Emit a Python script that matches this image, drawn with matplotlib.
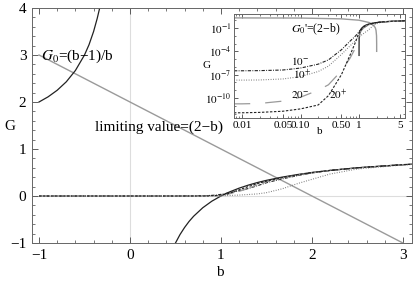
import numpy as np
import matplotlib
matplotlib.use("Agg")
import matplotlib.pyplot as plt
from matplotlib.ticker import FixedLocator, NullFormatter, MultipleLocator

plt.rcParams['font.family'] = ['Liberation Serif', 'DejaVu Serif']
plt.rcParams['mathtext.fontset'] = 'stix'

# ---------------- data ----------------
# G0 = (b-1)/b, two branches
g0_left_b = [-1.0, -0.9, -0.8, -0.7, -0.6, -0.5, -0.45, -0.4, -0.36, -0.333]
g0_left_G = [2.0, 2.11, 2.25, 2.43, 2.67, 3.0, 3.22, 3.5, 3.78, 4.0]
g0_right_b = [0.5, 0.55, 0.6, 0.65, 0.7, 0.8, 0.9, 1.0, 1.00003, 1.0003, 1.003, 1.01, 1.05,
              1.1, 1.2, 1.3, 1.4, 1.5, 1.67, 1.85, 2.0, 2.2, 2.5, 3.0, 4.0, 5.0, 6.0]
g0_right_G = [-1.0, -0.82, -0.67, -0.54, -0.43, -0.25, -0.11, 0.0, 3e-5, 3e-4, 3e-3, 0.0099, 0.048,
              0.091, 0.167, 0.231, 0.286, 0.333, 0.401, 0.459, 0.5, 0.545, 0.6, 0.667, 0.75, 0.8, 0.833]

# limiting value 2-b
lim_b = [-1.0, 3.0]
lim_G = [3.0, -1.0]
lim_log_b = [0.0073, 0.1, 0.5, 1.0, 1.5, 1.8, 1.9, 1.95, 1.99, 1.999, 1.9999]
lim_log_G = [1.99, 1.9, 1.5, 1.0, 0.5, 0.2, 0.1, 0.05, 0.01, 0.001, 1e-4]

# perturbative curves: log10(G) at common b values
curve_b = [0.0073, 0.01, 0.02, 0.05, 0.1, 0.2, 0.3, 0.5, 0.7, 0.85, 0.95, 1.0, 1.05, 1.1,
           1.2, 1.3, 1.4, 1.5, 1.67, 1.85, 2.0, 2.2, 2.5, 3.0, 4.0, 5.0, 6.0]
logG_10m = [-6.5, -6.5, -6.48, -6.4, -6.15, -5.65, -5.1, -3.8, -2.7, -2.1, -1.7, -1.45, -1.28, -1.15,
            -0.95, -0.8, -0.66, -0.55, -0.44, -0.36, -0.31, -0.265, -0.222, -0.176, -0.125, -0.097, -0.079]
logG_10p = [-7.7, -7.7, -7.68, -7.55, -7.25, -6.6, -5.9, -4.4, -3.3, -2.7, -2.4, -2.2, -2.05, -1.9,
            -1.7, -1.5, -1.35, -1.15, -0.82, -0.57, -0.45, -0.33, -0.24, -0.18, -0.125, -0.097, -0.079]
logG_20m = [-10.75, -10.75, -10.7, -10.4, -9.9, -9.0, -8.3, -6.5, -4.9, -3.7, -2.8, -2.3, -1.6, -1.3,
            -1.0, -0.8, -0.62, -0.52, -0.42, -0.35, -0.305, -0.265, -0.222, -0.176, -0.125, -0.097, -0.079]
logG_20p = [-11.9, -11.9, -11.85, -11.7, -11.4, -10.9, -9.7, -7.0, -4.5, -3.0, -2.0, -1.6, -1.5, -1.2,
            -0.88, -0.7, -0.58, -0.5, -0.41, -0.345, -0.302, -0.264, -0.222, -0.176, -0.125, -0.097, -0.079]

main_xticks = [-1, 0, 1, 2, 3]
main_yticks = [-1, 0, 1, 2, 3, 4]
inset_xticks = [0.01, 0.05, 0.1, 0.5, 1, 5]
inset_xlabels = ['0.01', '0.05', '0.10', '0.50', '1', '5']
inset_yticks = [1e-1, 1e-4, 1e-7, 1e-10]
inset_ylabels = [r'$10^{-1}$', r'$10^{-4}$', r'$10^{-7}$', r'$10^{-10}$']

# ---------------- styles ----------------
W, H = 415, 284
fig = plt.figure(figsize=(W / 100, H / 100), dpi=100)
ax = fig.add_axes([32 / W, 1 - 243 / H, (412 - 32) / W, (243 - 8) / H])

dark = '#222222'
gray = '#9a9a9a'
styles = {
    '10m': dict(color=dark, lw=0.8, dashes=(3.0, 1.2, 0.8, 1.2)),
    '10p': dict(color='#777777', lw=0.8, dashes=(0.8, 1.4)),
    '20m': dict(color=gray, lw=0.9, dashes=(13, 12)),
    '20p': dict(color=dark, lw=0.8, dashes=(2.2, 1.4)),
}
curves = {'10m': logG_10m, '10p': logG_10p, '20m': logG_20m, '20p': logG_20p}

# ---------------- main plot ----------------
ax.axhline(0, color='#dddddd', lw=0.8, zorder=0)
ax.axvline(0, color='#dddddd', lw=0.8, zorder=0)
ax.plot(lim_b, lim_G, color=gray, lw=1.0)
ax.plot(g0_left_b, g0_left_G, color=dark, lw=0.9)
ax.plot(g0_right_b, g0_right_G, color=dark, lw=0.9)
for k, lg in curves.items():
    bb = [-1.0] + curve_b
    gg = [0.0] + [10 ** v for v in lg]
    st = dict(styles[k])
    if k == '20m':
        st['dashes'] = (6, 4)
    ax.plot(bb, gg, **st)

ax.set_xlim(-1.077, 3.1)
ax.set_ylim(-1, 4)
ax.set_xticks(main_xticks)
ax.set_yticks(main_yticks)
ax.set_xticklabels(['\u22121', '0', '1', '2', '3'])
ax.set_yticklabels(['\u22121', '0', '1', '2', '3', '4'])
ax.xaxis.set_minor_locator(MultipleLocator(0.2))
ax.yaxis.set_minor_locator(MultipleLocator(0.2))
ax.tick_params(which='both', direction='in', top=True, right=True, labelsize=11, colors='#444444',
               labelcolor='black')
ax.tick_params(which='major', length=4.5, width=0.6)
ax.tick_params(which='minor', length=2, width=0.5)
ax.tick_params(axis='x', pad=4)
ax.tick_params(axis='y', pad=4)
for s in ax.spines.values():
    s.set_color('#666666')
    s.set_linewidth(0.7)

fig.text(220 / W, 1 - 272 / H, 'b', ha='center', va='center', fontsize=11)
fig.text(10 / W, 1 - 127 / H, 'G', ha='center', va='center', fontsize=11)
fig.text(41 / W, 1 - 56 / H, r'$G_0$=(b' + '\u2212' + '1)/b',
         ha='left', va='center', fontsize=11)
fig.text(95 / W, 1 - 127 / H, 'limiting value=(2\u2212b)', ha='left', va='center', fontsize=11)

# ---------------- inset ----------------
ins = fig.add_axes([234 / W, 1 - 118 / H, (405 - 234) / W, (118 - 14) / H])
ins.set_facecolor('white')
ins.set_xscale('log')
ins.set_yscale('log')
ins.plot(lim_log_b, lim_log_G, color=gray, lw=1.0)
ib = [b for b in g0_right_b if b > 1.0]
iG = [g for b, g in zip(g0_right_b, g0_right_G) if b > 1.0]
ins.plot(ib, iG, color=dark, lw=0.9)
for k, lg in curves.items():
    ins.plot(curve_b, [10 ** v for v in lg], **styles[k])

ins.set_xlim(10 ** -2.136, 10 ** 0.785)
ins.set_ylim(10 ** -12.57, 10 ** 0.8)
ins.xaxis.set_major_locator(FixedLocator(inset_xticks))
ins.set_xticklabels(inset_xlabels)
minors_x = [m * 10.0 ** e for e in range(-3, 1) for m in range(1, 10)]
ins.xaxis.set_minor_locator(FixedLocator(minors_x))
ins.xaxis.set_minor_formatter(NullFormatter())
ins.yaxis.set_major_locator(FixedLocator(inset_yticks))
ins.set_yticklabels(inset_ylabels)
ins.yaxis.set_minor_locator(FixedLocator([10.0 ** e for e in range(-13, 2)]))
ins.yaxis.set_minor_formatter(NullFormatter())
ins.tick_params(which='both', direction='in', top=True, right=True, labelsize=8, colors='#444444',
                labelcolor='black', pad=2)
ins.tick_params(which='major', length=3, width=0.6)
ins.tick_params(which='minor', length=1.5, width=0.5)
for s in ins.spines.values():
    s.set_color('#666666')
    s.set_linewidth(0.7)

fig.text(320 / W, 1 - 132 / H, 'b', ha='center', va='center', fontsize=8)
fig.text(206 / W, 1 - 65 / H, 'G', ha='center', va='center', fontsize=8)
fig.text(316 / W, 1 - 29 / H, r"$G_0$'=(2" + '\u2212b)', ha='center', va='center', fontsize=8.5)
fig.text(300 / W, 1 - 61 / H, r'$10^{-}$', ha='center', va='center', fontsize=8)
fig.text(302 / W, 1 - 75 / H, r'$10^{+}$', ha='center', va='center', fontsize=8)
fig.text(300 / W, 1 - 95 / H, r'$20^{-}$', ha='center', va='center', fontsize=8)
fig.text(338 / W, 1 - 95 / H, r'$20^{+}$', ha='center', va='center', fontsize=8)

fig.savefig('out.png', dpi=100)
